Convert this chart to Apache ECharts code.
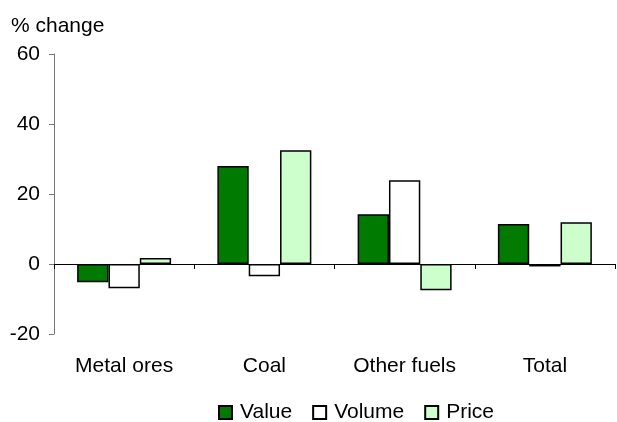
<!DOCTYPE html>
<html>
<head>
<meta charset="utf-8">
<script src="https://cdn.jsdelivr.net/npm/echarts@6/dist/echarts.min.js"></script>
<style>
  html, body { margin: 0; padding: 0; background: #fff; }
  #chart { width: 617px; height: 422px; }
</style>
</head>
<body>
<div id="chart"></div>
<script>
  const categories = ['Metal ores', 'Coal', 'Other fuels', 'Total']
  const valueData = [-5.2, 28, 14.2, 11.4]
  const volumeData = [-6.9, -3.5, 23.9, -0.7]
  const priceData = [1.7, 32.5, -7.5, 11.9]
  const yTicks = { min: -20, max: 60, interval: 20 }

  const font = '"Liberation Sans", Arial, sans-serif'
  const chart = echarts.init(document.getElementById('chart'))

  const barStyle = (color) => ({
    color: color,
    borderColor: '#000',
    borderWidth: 1.5
  })

  chart.setOption({
    animation: false,
    title: {
      text: '% change',
      left: 6,
      top: 11,
      textStyle: { fontFamily: font, fontSize: 21, fontWeight: 'normal', color: '#000' }
    },
    legend: {
      top: 402,
      left: 218,
      padding: 0,
      itemWidth: 13,
      itemHeight: 13,
      itemGap: 20,
      icon: 'rect',
      textStyle: { fontFamily: font, fontSize: 21, color: '#000', padding: [0, 0, 0, 3] },
      data: ['Value', 'Volume', 'Price']
    },
    grid: {
      left: 54,
      right: 2,
      top: 54,
      bottom: 88,
      containLabel: false
    },
    xAxis: [{
      // zero line with category boundary ticks
      type: 'category',
      data: categories,
      position: 'bottom',
      axisLine: { onZero: true, lineStyle: { color: '#000', width: 1 } },
      axisTick: { show: true, length: 5, lineStyle: { color: '#000' } },
      axisLabel: { show: false }
    }, {
      // labels along the bottom of the plot
      type: 'category',
      data: categories,
      position: 'bottom',
      axisLine: { show: false, onZero: false },
      axisTick: { show: false },
      axisLabel: { margin: 22, fontFamily: font, fontSize: 21, color: '#000' }
    }],
    yAxis: {
      type: 'value',
      min: yTicks.min,
      max: yTicks.max,
      interval: yTicks.interval,
      splitLine: { show: false },
      axisLine: { show: true, lineStyle: { color: '#777' } },
      axisTick: { show: true, length: 5, lineStyle: { color: '#777' } },
      axisLabel: { margin: 14, fontFamily: font, fontSize: 21, color: '#000' }
    },
    series: [{
      name: 'Value',
      type: 'bar',
      data: valueData,
      barGap: '0%',
      barCategoryGap: '33%',
      itemStyle: barStyle('#007a00')
    }, {
      name: 'Volume',
      type: 'bar',
      data: volumeData,
      itemStyle: barStyle('#ffffff')
    }, {
      name: 'Price',
      type: 'bar',
      data: priceData,
      itemStyle: barStyle('#ccffcc')
    }]
  })
</script>
</body>
</html>
